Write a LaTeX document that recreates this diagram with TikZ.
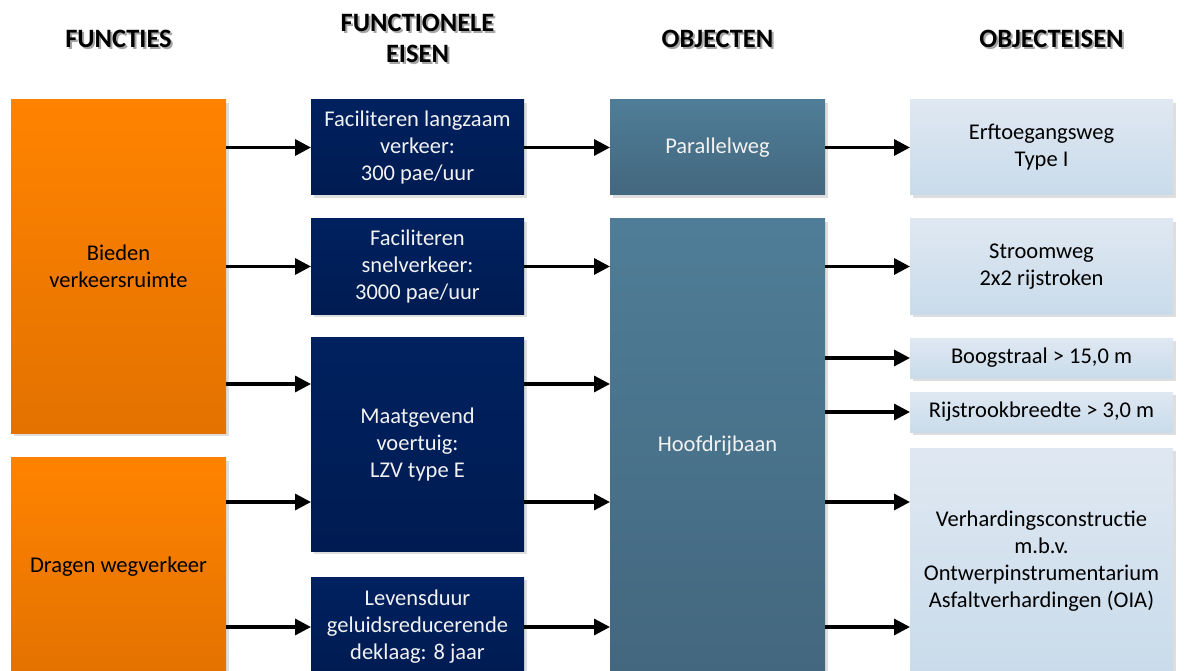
\documentclass[tikz,border=0pt]{standalone}
\usepackage{fontspec}
\setmainfont{Carlito}
\usetikzlibrary{arrows.meta,shadows}

\definecolor{orangeTop}{HTML}{FF8300}
\definecolor{orangeBot}{HTML}{E37200}
\definecolor{navyTop}{HTML}{00215F}
\definecolor{navyBot}{HTML}{001B52}
\definecolor{steelTop}{HTML}{4F7D97}
\definecolor{steelBot}{HTML}{43677F}
\definecolor{paleTop}{HTML}{DFE8F2}
\definecolor{paleBot}{HTML}{C9DBEA}
\definecolor{paleText}{HTML}{F2F2F2}

\newcommand\diabody{\fontsize{22.5}{27}\selectfont}
\newcommand\diahead{\fontsize{26.5}{31.5}\selectfont\bfseries}

\begin{document}
\begin{tikzpicture}[x=1pt,y=-1pt,
  box/.style={rectangle, inner sep=0pt, outer sep=0pt, align=center, font=\diabody,
    drop shadow={shadow xshift=3pt, shadow yshift=-3pt, fill=black!13, opacity=1}},
  funcbox/.style={box, top color=orangeTop, bottom color=orangeBot, text=black,
    minimum width=215pt},
  reqbox/.style={box, top color=navyTop, bottom color=navyBot, text=paleText,
    minimum width=213pt},
  objbox/.style={box, top color=steelTop, bottom color=steelBot, text=paleText,
    minimum width=215pt},
  specbox/.style={box, top color=paleTop, bottom color=paleBot, text=black,
    minimum width=263pt},
  head/.style={align=center, font=\diahead, text=black, inner sep=0pt},
  headshade/.style={head, text=black!35},
  link/.style={line width=3.3pt, -{Triangle[length=16pt,width=16pt]}}
]
\useasboundingbox (0,0) rectangle (1186,671);
\clip (0,0) rectangle (1186,671);

% column headings, each with a soft grey shadow
\node[headshade] at (120.5,40.5) {FUNCTIES};
\node[head] (hF) at (118.5,38.5) {FUNCTIES};
\node[headshade] at (419.5,40.5) {FUNCTIONELE\\EISEN};
\node[head] (hE) at (417.5,38.5) {FUNCTIONELE\\EISEN};
\node[headshade] at (719.5,40.5) {OBJECTEN};
\node[head] (hO) at (717.5,38.5) {OBJECTEN};
\node[headshade] at (1053.5,40.5) {OBJECTEISEN};
\node[head] (hOE) at (1051.5,38.5) {OBJECTEISEN};

% functions
\node[funcbox, minimum height=333pt] (f1) at (118.5,266.5) {Bieden\\verkeersruimte};
\node[funcbox, minimum height=218pt] (f2) at (118.5,566.5) {Dragen wegverkeer};

% functional requirements
\node[reqbox, minimum height=95pt] (n1) at (417.5,147.5) {Faciliteren langzaam\\verkeer:\\300 pae/uur};
\node[reqbox, minimum height=95pt] (n2) at (417.5,266.5) {Faciliteren\\snelverkeer:\\3000 pae/uur};
\node[reqbox, minimum height=214pt] (n3) at (417.5,444) {Maatgevend\\voertuig:\\LZV type E};
\node[reqbox, minimum height=100pt] (n4) at (417.5,627) {Levensduur\\geluidsreducerende\\deklaag: 8 jaar};

% objects
\node[objbox, minimum height=95pt] (s1) at (717.5,147.5) {Parallelweg};
\node[objbox, minimum height=454pt] (s2) at (717.5,446) {Hoofdrijbaan};

% object requirements
\node[specbox, minimum height=95pt] (l1) at (1041.5,147.5) {Erftoegangsweg\\Type I};
\node[specbox, minimum height=95pt] (l2) at (1041.5,266.5) {Stroomweg\\2x2 rijstroken};
\node[specbox, minimum height=40pt] (l3) at (1041.5,358) {Boogstraal > 15,0 m};
\node[specbox, minimum height=40pt] (l4) at (1041.5,412) {Rijstrookbreedte > 3,0 m};
\node[specbox, minimum height=226pt] (l5) at (1041.5,561) {Verhardingsconstructie\\m.b.v.\\Ontwerpinstrumentarium\\Asfaltverhardingen (OIA)};

% arrow rows that do not run through a box centre
\coordinate (rowA) at (0,384);
\coordinate (rowB) at (0,502);
\coordinate (rowC) at (0,627);

% functions -> functional requirements
\draw[link] (f1.east |- n1.west) -- (n1.west);
\draw[link] (f1.east |- n2.west) -- (n2.west);
\draw[link] (f1.east |- rowA) -- (n3.west |- rowA);
\draw[link] (f2.east |- rowB) -- (n3.west |- rowB);
\draw[link] (f2.east |- rowC) -- (n4.west |- rowC);

% functional requirements -> objects
\draw[link] (n1.east) -- (s1.west);
\draw[link] (n2.east) -- (s2.west |- n2.east);
\draw[link] (n3.east |- rowA) -- (s2.west |- rowA);
\draw[link] (n3.east |- rowB) -- (s2.west |- rowB);
\draw[link] (n4.east |- rowC) -- (s2.west |- rowC);

% objects -> object requirements
\draw[link] (s1.east) -- (l1.west);
\draw[link] (s2.east |- l2.west) -- (l2.west);
\draw[link] (s2.east |- l3.west) -- (l3.west);
\draw[link] (s2.east |- l4.west) -- (l4.west);
\draw[link] (s2.east |- rowB) -- (l5.west |- rowB);
\draw[link] (s2.east |- rowC) -- (l5.west |- rowC);
\end{tikzpicture}
\end{document}
